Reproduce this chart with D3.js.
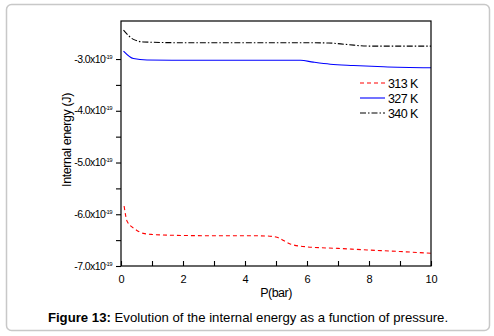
<!DOCTYPE html>
<html>
<head>
    <title>Internal energy</title>
    <script src="https://cdn.jsdelivr.net/npm/d3@7"></script>
    <style>
        body { margin: 0; background: #fff; }
    </style>
</head>
<body>
    <svg width="494" height="336" id="mainsvg"></svg>
    <script>
        // data (energy in units of 1e-19 J)
        const p313 = [0.1, 0.2, 0.46, 0.72, 1.0, 2.0, 3.0, 4.0, 4.7, 5.03, 5.46, 6.0, 7.0, 7.94, 9.0, 10];
        const e313 = [-5.84, -6.14, -6.29, -6.37, -6.39, -6.41, -6.415, -6.415, -6.42, -6.445, -6.575, -6.63, -6.66, -6.69, -6.72, -6.755];
        const p327 = [0.08, 0.4, 0.84, 2.0, 4.0, 5.79, 6.2, 6.75, 7.5, 8.47, 10];
        const e327 = [-2.845, -2.99, -3.02, -3.025, -3.025, -3.025, -3.06, -3.10, -3.125, -3.15, -3.17];
        const p340 = [0.08, 0.4, 0.73, 2.0, 4.0, 6.0, 6.7, 7.3, 8.0, 9.0, 10];
        const e340 = [-2.44, -2.62, -2.67, -2.685, -2.685, -2.685, -2.69, -2.72, -2.75, -2.75, -2.75];
        const seriesNames = ['313 K', '327 K', '340 K'];
        const xTicks = [0, 2, 4, 6, 8, 10];
        const yTicks = [-7, -6, -5, -4, -3];

        const series = [
            { name: seriesNames[0], p: p313, e: e313, color: '#ff0000', dash: '4,3' },
            { name: seriesNames[1], p: p327, e: e327, color: '#0000ff', dash: null },
            { name: seriesNames[2], p: p340, e: e340, color: '#000000', dash: '6,2,1.5,2' }
        ];

        const svg = d3.select('#mainsvg');
        const font = 'Liberation Sans, Arial, sans-serif';

        // outer frame
        svg.append('rect').attr('x', 6.5).attr('y', 4.5).attr('width', 483).attr('height', 326)
            .attr('rx', 5).attr('fill', '#fff').attr('stroke', '#c8c8c8').attr('stroke-width', 1.5);

        const margin = { top: 21, left: 121, right: 431, bottom: 266 };
        const xScale = d3.scaleLinear().domain([0, 10]).range([margin.left, margin.right]);
        const yScale = d3.scaleLinear().domain([-7, -2.265]).range([margin.bottom, margin.top]);

        const g = svg.append('g');

        // lines
        const line = d3.line().curve(d3.curveMonotoneX)
            .x(d => xScale(d[0])).y(d => yScale(d[1]));
        series.forEach(s => {
            g.append('path')
                .datum(s.p.map((v, i) => [v, s.e[i]]))
                .attr('d', line)
                .attr('fill', 'none')
                .attr('stroke', s.color)
                .attr('stroke-width', 1.1)
                .attr('stroke-dasharray', s.dash);
        });

        // plot frame
        g.append('rect').attr('x', margin.left).attr('y', margin.top)
            .attr('width', margin.right - margin.left).attr('height', margin.bottom - margin.top)
            .attr('fill', 'none').attr('stroke', '#000').attr('stroke-width', 1.2);

        // x axis: ticks inward
        const xAxis = d3.axisBottom(xScale).tickValues(d3.range(0, 11, 1))
            .tickSize(-5).tickFormat(d => xTicks.includes(d) ? d : '');
        const xa = g.append('g').attr('transform', `translate(0, ${margin.bottom})`).call(xAxis);
        xa.select('.domain').remove();
        xa.selectAll('.tick line').attr('stroke-width', 1.1);
        xa.selectAll('.tick text').attr('y', 9).attr('font-size', 11).attr('font-family', font).attr('fill', '#000');

        // y axis: ticks outward
        const yAxis = d3.axisLeft(yScale).tickValues(d3.range(-7, -2.5, 0.5))
            .tickSize(5).tickFormat('');
        const ya = g.append('g').attr('transform', `translate(${margin.left}, 0)`).call(yAxis);
        ya.select('.domain').remove();
        ya.selectAll('.tick line').attr('stroke-width', 1.1);

        const yl = g.selectAll('.ylab').data(yTicks).join('text')
            .attr('class', 'ylab')
            .attr('x', margin.left - 9)
            .attr('y', d => yScale(d) + 3.5)
            .attr('text-anchor', 'end')
            .attr('font-family', font)
            .attr('font-size', 10.5)
            .attr('letter-spacing', -0.6);
        yl.append('tspan').text(d => d.toFixed(1) + 'x10');
        yl.append('tspan').attr('dy', -4).attr('font-size', 6).text('-19');

        // axis titles
        svg.append('text').attr('x', 276).attr('y', 297).attr('text-anchor', 'middle')
            .attr('font-family', font).attr('font-size', 12.5).attr('letter-spacing', -0.5).text('P(bar)');
        svg.append('text').attr('transform', 'translate(71, 140) rotate(-90)').attr('text-anchor', 'middle')
            .attr('font-family', font).attr('font-size', 12.5).attr('letter-spacing', -0.4).text('Internal energy (J)');

        // legend
        const leg = g.selectAll('.leg').data(series).join('g')
            .attr('class', 'leg')
            .attr('transform', (d, i) => `translate(360, ${83 + i * 15})`);
        leg.append('line').attr('x1', 0).attr('x2', 25).attr('y1', 0).attr('y2', 0)
            .attr('stroke', d => d.color).attr('stroke-width', 1.1).attr('stroke-dasharray', d => d.dash);
        leg.append('text').attr('x', 28).attr('y', 4.5).attr('font-family', font).attr('font-size', 12.5)
            .attr('letter-spacing', -0.6).text(d => d.name);

        // caption
        const cap = svg.append('text').attr('x', 248).attr('y', 322).attr('text-anchor', 'middle')
            .attr('font-family', font).attr('font-size', 13.2);
        cap.append('tspan').attr('font-weight', 'bold').text('Figure 13:');
        cap.append('tspan').text(' Evolution of the internal energy as a function of pressure.');
    </script>
</body>
</html>
